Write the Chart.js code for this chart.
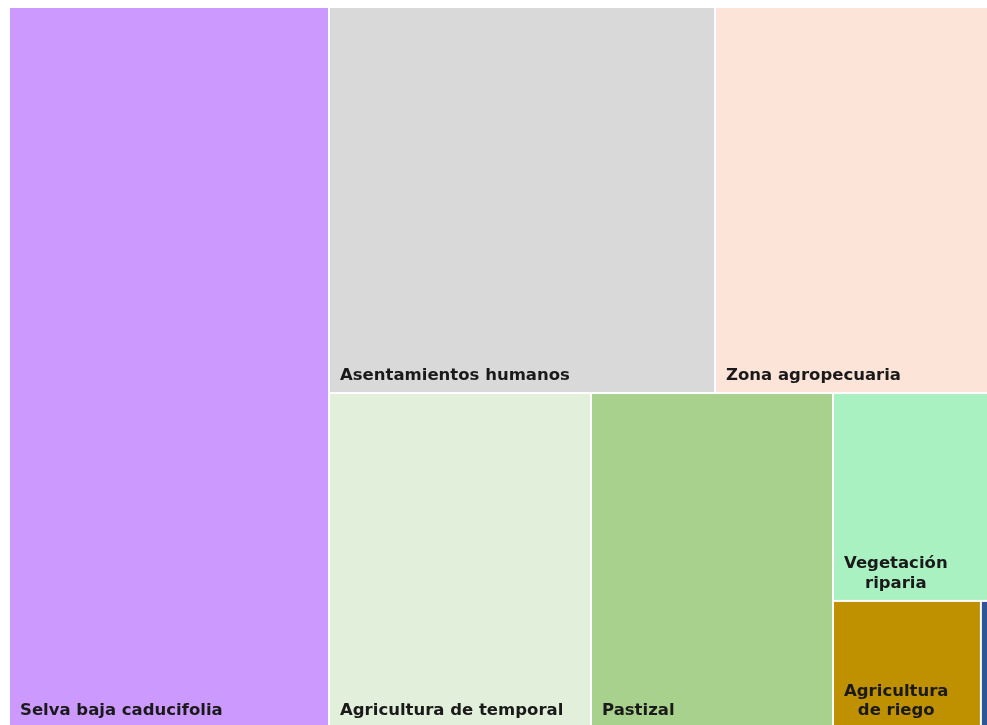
<!DOCTYPE html>
<html>
<head>
<meta charset="utf-8">
<script src="https://cdn.jsdelivr.net/npm/chart.js@4.4.1/dist/chart.umd.min.js"></script>
<style>
  html, body { margin: 0; padding: 0; background: #fff; overflow: hidden; }
  #wrap { position: absolute; left: 0; top: 0; }
</style>
</head>
<body>
<div id="wrap"><canvas id="treemap" width="1006" height="738"></canvas></div>
<script>
// uso de suelo, % de superficie
const categorias = ['Selva baja caducifolia', 'Asentamientos humanos', 'Zona agropecuaria',
  'Agricultura de temporal', 'Pastizal', 'Vegetación riparia', 'Agricultura de riego', 'Cuerpos de agua'];
const superficie = [32.42, 20.94, 15.24, 12.33, 11.39, 4.76, 2.64, 0.27];
const colores = ['#cc99ff', '#d9d9d9', '#fde4d8', '#e2efda', '#a9d18e', '#aaf1c2', '#bf9000', '#2f5597'];

// squarified layout (same idea as d3), rows are picked while the worst ratio improves
function squarify(values, x0, y0, x1, y1, ratio) {
  const rects = [];
  const n = values.length;
  let total = values.reduce((a, b) => a + b, 0);
  let i0 = 0;
  while (i0 < n) {
    const dx = x1 - x0, dy = y1 - y0;
    const alpha = Math.max(dy / dx, dx / dy) / (total * ratio);
    let i1 = i0;
    let sum = values[i1++];
    let minV = sum, maxV = sum;
    let beta = sum * sum * alpha;
    let best = Math.max(maxV / beta, beta / minV);
    for (; i1 < n; i1++) {
      const v = values[i1];
      const s = sum + v;
      const mn = Math.min(minV, v), mx = Math.max(maxV, v);
      beta = s * s * alpha;
      const r = Math.max(mx / beta, beta / mn);
      if (r > best) break;
      sum = s; minV = mn; maxV = mx; best = r;
    }
    if (dx < dy) {
      const h = dy * sum / total;
      let x = x0;
      for (let k = i0; k < i1; k++) {
        const w = dx * values[k] / sum;
        rects[k] = { x0: x, x1: x + w, y0: y0, y1: y0 + h };
        x += w;
      }
      y0 += h;
    } else {
      const w = dx * sum / total;
      let y = y0;
      for (let k = i0; k < i1; k++) {
        const h = dy * values[k] / sum;
        rects[k] = { x0: x0, x1: x0 + w, y0: y, y1: y + h };
        y += h;
      }
      x0 += w;
    }
    total -= sum;
    i0 = i1;
  }
  return rects;
}

function wrap(ctx, text, maxW) {
  const words = text.split(' ');
  const lines = [];
  let line = '';
  words.forEach(w => {
    const t = line ? line + ' ' + w : w;
    if (line && ctx.measureText(t).width > maxW) {
      lines.push(line);
      line = w;
    } else {
      line = t;
    }
  });
  if (line) lines.push(line);
  return lines;
}

const treemapPlugin = {
  id: 'treemap',
  afterDatasetsDraw(chart) {
    const { ctx, chartArea, scales } = chart;
    const aspect = chartArea.width / chartArea.height;
    const rects = squarify(superficie, 0, 0, aspect, 1, 0.8);
    const pad = 10, lineH = 19.5;
    ctx.save();
    ctx.font = 'bold 16.5px "DejaVu Sans"';
    rects.forEach((r, i) => {
      const left = scales.x.getPixelForValue(r.x0 / aspect) + 1;
      const right = scales.x.getPixelForValue(r.x1 / aspect) - 1;
      const top = scales.y.getPixelForValue(r.y0) + 1;
      const bottom = scales.y.getPixelForValue(r.y1) - 1;
      ctx.fillStyle = colores[i];
      ctx.fillRect(left, top, right - left, bottom - top);

      const lines = wrap(ctx, categorias[i], right - left - 2 * pad);
      const blockW = Math.max(...lines.map(l => ctx.measureText(l).width));
      ctx.fillStyle = '#1a1a1a';
      ctx.textAlign = 'center';
      ctx.textBaseline = 'alphabetic';
      const cx = left + pad + blockW / 2;
      lines.forEach((l, k) => {
        ctx.fillText(l, cx, bottom - 12 - (lines.length - 1 - k) * lineH);
      });
    });
    ctx.restore();
  }
};

new Chart(document.getElementById('treemap'), {
  type: 'scatter',
  data: { datasets: [{ data: [], pointRadius: 0 }] },
  options: {
    responsive: false,
    animation: false,
    layout: { padding: { left: 9, top: 7, right: 10, bottom: 10 } },
    scales: {
      x: { type: 'linear', min: 0, max: 1, display: false },
      y: { type: 'linear', min: 0, max: 1, reverse: true, display: false }
    },
    plugins: { legend: { display: false }, tooltip: { enabled: false } }
  },
  plugins: [treemapPlugin]
});
</script>
</body>
</html>
